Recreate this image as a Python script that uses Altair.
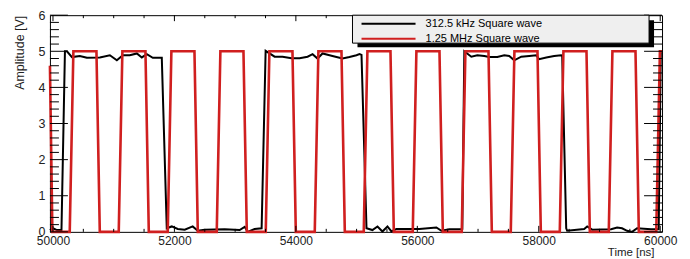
import altair as alt
import pandas as pd

FONT = "Liberation Sans"
SERIES = ["312.5 kHz Square wave", "1.25 MHz Square wave"]
COLORS = ["#000000", "#d01f1f"]

# 312.5 kHz square wave (time in ns, amplitude in V)
black_t = [49950, 49999, 50065, 50140, 50197, 50230, 50312, 50443, 50558, 50772,
           50937, 51052, 51150, 51266, 51381, 51463, 51545, 51644, 51792, 51874,
           51956, 52055, 52170, 52301, 52384, 52499, 52828, 53074, 53157, 53206,
           53321, 53436, 53502, 53650, 53781, 53929, 54061, 54193, 54275, 54357,
           54439, 54554, 54669, 54768, 54883, 54998, 55048, 55081, 55163, 55261,
           55344, 55426, 55508, 55574, 55656, 56034, 56314, 56396, 56528, 56692,
           56741, 56774, 56889, 56988, 57103, 57185, 57317, 57432, 57514, 57596,
           57712, 57843, 57958, 58008, 58123, 58254, 58369, 58386, 58452, 58468,
           58748, 58797, 58879, 59191, 59290, 59372, 59454, 59537, 59619, 59849,
           59975, 60010, 60030]
black_v = [0.05, 0.10, 0.05, 0.05, 5.00, 5.00, 4.84, 4.87, 4.82, 4.83,
           4.89, 4.75, 4.89, 4.89, 4.94, 4.83, 4.92, 4.82, 4.82, 0.10,
           0.15, 0.08, 0.06, 0.15, 0.03, 0.06, 0.07, 0.05, 0.14, 0.00,
           0.08, 0.10, 5.01, 4.85, 4.85, 4.81, 4.81, 4.85, 4.92, 4.80,
           4.94, 4.89, 4.84, 4.80, 4.84, 4.89, 4.92, 4.90, 0.10, 0.05,
           0.15, 0.01, 0.15, 0.01, 0.08, 0.08, 0.12, 0.03, 0.07, 0.07,
           0.08, 5.00, 4.85, 4.89, 4.87, 4.84, 4.84, 4.89, 4.87, 4.75,
           4.85, 4.87, 4.89, 4.78, 4.83, 4.87, 4.89, 4.88, 0.10, 0.03,
           0.08, 0.15, 0.06, 0.07, 0.12, 0.10, 0.03, 0.00, 0.10, 0.07,
           0.07, 5.00, 5.00]

# 1.25 MHz square wave
red_t = [49950, 49990,
         50276, 50336, 50716, 50771,
         51083, 51143, 51523, 51578,
         51890, 51950, 52330, 52385,
         52697, 52757, 53137, 53192,
         53504, 53564, 53944, 53999,
         54311, 54371, 54751, 54806,
         55118, 55178, 55558, 55613,
         55925, 55985, 56365, 56420,
         56732, 56792, 57172, 57227,
         57539, 57599, 57979, 58034,
         58346, 58406, 58786, 58841,
         59153, 59213, 59593, 59648,
         59935, 59995, 60030]
red_v = [4.6, 0,
         0, 5, 5, 0,
         0, 5, 5, 0,
         0, 5, 5, 0,
         0, 5, 5, 0,
         0, 5, 5, 0,
         0, 5, 5, 0,
         0, 5, 5, 0,
         0, 5, 5, 0,
         0, 5, 5, 0,
         0, 5, 5, 0,
         0, 5, 5, 0,
         0, 5, 5, 0,
         0, 5, 5]

y_major = [0, 1, 2, 3, 4, 5, 6]
y_minor = [i / 5 for i in range(31) if i % 5]
x_major = [50000, 52000, 54000, 56000, 58000, 60000]
x_minor = [50000 + 500 * i for i in range(21) if i % 4]

W, H = 613, 217

black_df = pd.DataFrame({"t": black_t, "v": black_v, "series": SERIES[0]})
red_df = pd.DataFrame({"t": red_t, "v": red_v, "series": SERIES[1]})

x_scale = alt.Scale(domain=[49950, 60030], nice=False, zero=False)
y_scale = alt.Scale(domain=[0, 6], nice=False, zero=False)

x_axis = alt.Axis(values=x_major, format="d", ticks=False, domain=False, grid=False,
                  labelFont=FONT, labelFontSize=12, labelColor="#222222", labelPadding=3.5,
                  title="Time [ns]", titleFont=FONT, titleFontSize=11.5,
                  titleFontWeight="normal", titleColor="#222222",
                  titleX=605, titleY=24, titleAlign="right", titleBaseline="alphabetic")
y_axis = alt.Axis(values=y_major, format="d", ticks=False, domain=False, grid=False,
                  labelFont=FONT, labelFontSize=12.5, labelColor="#222222", labelPadding=5,
                  title="Amplitude [V]", titleFont=FONT, titleFontSize=12.5,
                  titleFontWeight="normal", titleColor="#222222",
                  titleX=-26, titleY=0, titleAngle=270, titleAlign="right",
                  titleBaseline="alphabetic")

X = alt.X("t:Q", scale=x_scale, axis=x_axis)
Y = alt.Y("v:Q", scale=y_scale, axis=y_axis)

# long horizontal line symbol: custom path is scaled by sqrt(size)/2
color = alt.Color("series:N",
                  scale=alt.Scale(domain=SERIES, range=COLORS),
                  legend=alt.Legend(title=None, orient="none", legendX=332.6, legendY=2.2,
                                    symbolType="M-5,0H5", symbolSize=117,
                                    symbolStrokeWidth=2, labelFont=FONT,
                                    labelFontSize=11, labelColor="#000000",
                                    labelOffset=30.6, rowPadding=3, padding=0,
                                    labelLimit=400))

black_line = alt.Chart(black_df).mark_line(strokeWidth=2).encode(x=X, y=Y, color=color)
red_line = alt.Chart(red_df).mark_line(strokeWidth=2.6).encode(x=X, y=Y, color=color)

one = pd.DataFrame({"a": [0]})
shadow = alt.Chart(one).mark_rect(color="#000000").encode(
    x=alt.value(308), x2=alt.value(605), y=alt.value(5), y2=alt.value(32))
box = alt.Chart(one).mark_rect(fill="#efefef", stroke="#000000", strokeWidth=1).encode(
    x=alt.value(303), x2=alt.value(600), y=alt.value(0), y2=alt.value(28))

ymaj_df = pd.DataFrame({"v": y_major})
ymin_df = pd.DataFrame({"v": y_minor})
xmaj_df = pd.DataFrame({"t": x_major})
xmin_df = pd.DataFrame({"t": x_minor})

def yrule(df, x0, x1):
    return alt.Chart(df).mark_rule(color="#000000", strokeWidth=1).encode(
        y=Y, x=alt.value(x0), x2=alt.value(x1))

def xrule(df, y0, y1):
    return alt.Chart(df).mark_rule(color="#000000", strokeWidth=1).encode(
        x=X, y=alt.value(y0), y2=alt.value(y1))

ticks = [
    yrule(ymaj_df, 0, 18), yrule(ymaj_df, W - 18, W),
    yrule(ymin_df, 0, 9), yrule(ymin_df, W - 9, W),
    xrule(xmaj_df, H, H - 6), xrule(xmaj_df, 0, 6),
    xrule(xmin_df, H, H - 3), xrule(xmin_df, 0, 3),
]

chart = alt.layer(black_line, red_line, *ticks, shadow, box).properties(
    width=W, height=H,
    autosize=alt.AutoSizeParams(type="none"),
    padding={"left": 42, "top": 7, "right": 20, "bottom": 27},
    background="white",
).configure_view(stroke="#000000", strokeWidth=1)

chart.save("out.html", embed_options={"renderer": "svg", "actions": False})
